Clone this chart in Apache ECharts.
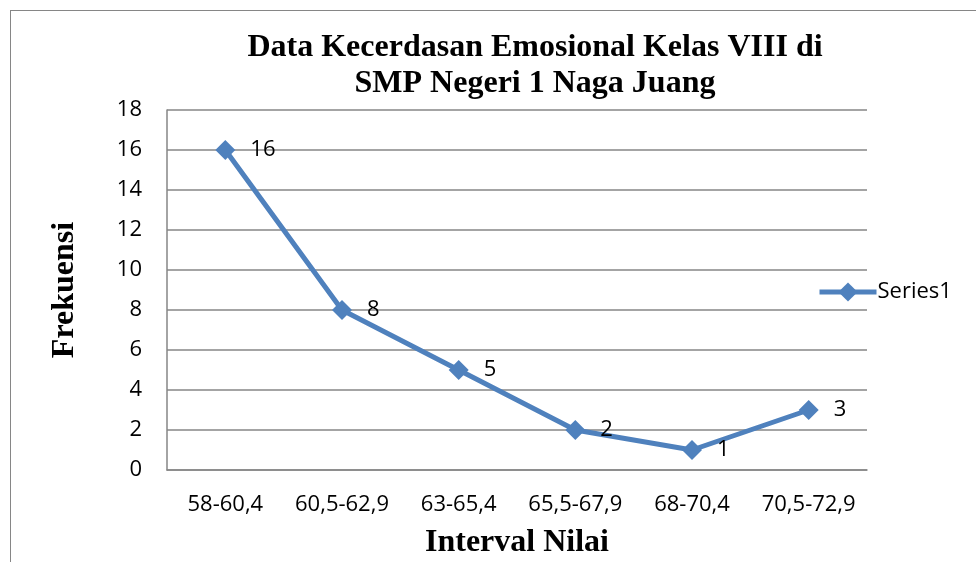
<!DOCTYPE html>
<html><head><meta charset="utf-8">
<script src="https://cdn.jsdelivr.net/npm/echarts@6/dist/echarts.min.js"></script>
<style>html,body{margin:0;padding:0;background:#fff;overflow:hidden;width:976px;height:562px}
#c{position:absolute;left:0;top:0;width:976px;height:562px}
#frame{position:absolute;left:10px;top:10px;width:980px;height:600px;border:1.5px solid #868686;box-sizing:border-box;pointer-events:none}</style>
</head><body><div id="c"></div><div id="frame"></div>
<script>
const categories = ['58-60,4','60,5-62,9','63-65,4','65,5-67,9','68-70,4','70,5-72,9'];
const values = [16, 8, 5, 2, 1, 3];
const yTicks = {min: 0, max: 18, interval: 2};
const titleLines = ['Data Kecerdasan Emosional Kelas VIII di', 'SMP Negeri 1 Naga Juang'];
const seriesName = 'Series1';

const chart = echarts.init(document.getElementById('c'));
const grey = '#868686';
const blue = '#4F81BD';
const lab = {fontFamily: 'Open Sans', fontSize: 22, color: '#000'};
chart.setOption({
  animation: false,
  title: {
    text: titleLines.join('\n'),
    left: 530, top: 25, textAlign: 'center',
    textStyle: {fontFamily: 'Liberation Serif', fontWeight: 'bold', fontSize: 32, lineHeight: 36, color: '#000'}
  },
  legend: {
    data: [seriesName], left: 812, top: 276,
    itemWidth: 57, itemHeight: 24, itemGap: 0,
    lineStyle: {width: 5},
    textStyle: Object.assign({}, lab, {padding: [0,0,0,-4]})
  },
  grid: {left: 167, top: 110, width: 700, height: 360, containLabel: false, outerBoundsMode: 'none'},
  xAxis: {
    type: 'category', data: categories, boundaryGap: true,
    axisLine: {lineStyle: {color: grey, width: 1.5}},
    axisTick: {show: false},
    axisLabel: Object.assign({margin: 24, interval: 0, hideOverlap: false}, lab),
    name: 'Interval Nilai', nameLocation: 'middle', nameGap: 57,
    nameTextStyle: {fontFamily: 'Liberation Serif', fontWeight: 'bold', fontSize: 32, color: '#000'}
  },
  yAxis: {
    type: 'value', min: yTicks.min, max: yTicks.max, interval: yTicks.interval,
    axisLine: {show: true, lineStyle: {color: grey, width: 1.5}},
    axisTick: {show: false},
    splitLine: {lineStyle: {color: grey, width: 1.5}},
    axisLabel: Object.assign({margin: 25}, lab),
    name: 'Frekuensi', nameLocation: 'middle', nameGap: 86,
    nameTextStyle: {fontFamily: 'Liberation Serif', fontWeight: 'bold', fontSize: 32, color: '#000'}
  },
  series: [{
    name: seriesName, type: 'line', data: values,
    symbol: 'diamond', symbolSize: 20,
    lineStyle: {color: blue, width: 5},
    itemStyle: {color: blue},
    label: Object.assign({show: true, position: 'right', distance: 15}, lab)
  }]
});
</script></body></html>
